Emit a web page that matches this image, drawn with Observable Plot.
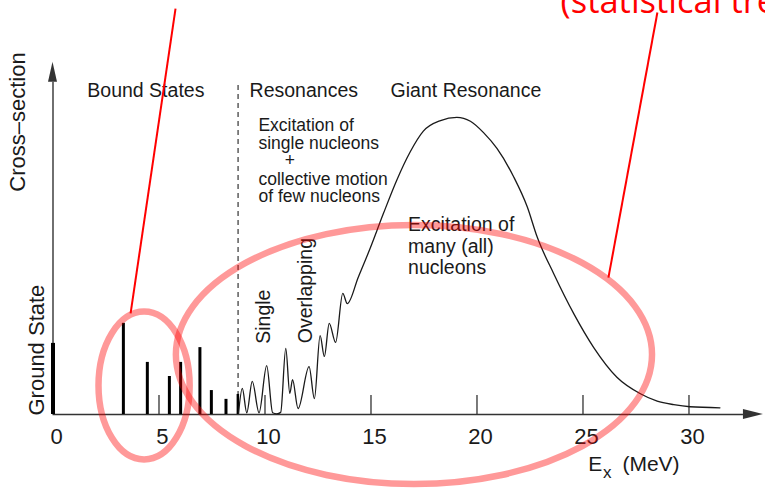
<!DOCTYPE html>
<html><head><meta charset="utf-8">
<script src="https://cdn.jsdelivr.net/npm/d3@7"></script>
<script src="https://cdn.jsdelivr.net/npm/@observablehq/plot@0.6"></script>
<style>html,body{margin:0;padding:0;background:#fff;overflow:hidden;width:765px;height:489px}</style>
</head><body><div id="chart"></div>
<script>
// ---- data (excitation energy in MeV, cross-section in arbitrary units) ----
const groundEnergy = [0];
const groundHeight = [20.2];
const levelEnergies = [3.32, 4.45, 5.49, 6.02, 6.93, 7.47, 8.16];
const levelHeights  = [25.9, 14.8, 10.8, 14.8, 19.0, 6.8, 4.3];
const thresholdEnergy = [8.72];
const thresholdHeight = [5.7];
const separationEnergy = [8.73];
const curveEnergies = [8.75, 8.93, 9.14, 9.40, 9.72, 10.08, 10.36, 10.55, 10.74, 10.98, 11.17, 11.30, 11.56, 12.08, 12.33, 12.60, 12.80, 13.03, 13.33, 13.67, 13.88, 14.40, 14.98, 15.58, 16.21, 16.84, 17.47, 18.28, 19.05, 19.69, 20.32, 20.95, 21.74, 22.37, 22.84, 23.62, 24.57, 25.50, 26.60, 27.71, 28.50, 29.28, 30.05, 31.46];
const curveValues   = [0.3, 7.4, 0.5, 9.4, 0.5, 13.9, 0.5, 0.2, 0.6, 18.8, 6.0, 9.9, 1.7, 13.6, 4.5, 22.4, 16.5, 25.9, 20.5, 34.4, 31.5, 39.0, 47.5, 57.0, 66.5, 74.5, 80.5, 83.5, 84.4, 83.3, 80.0, 75.5, 67.4, 59.0, 50.4, 40.0, 28.6, 19.1, 10.6, 5.9, 3.8, 2.8, 2.2, 1.9];
const xTicks = [0, 5, 10, 15, 20, 25, 30];
const regionLabels = ["Bound States", "Resonances", "Giant Resonance"];
const fewLines = ["Excitation of", "single nucleons", "+", "collective motion", "of few nucleons"];
const manyLines = ["Excitation of", "many (all)", "nucleons"];

const ground = groundEnergy.map((e, i) => ({e, h: groundHeight[i]}));
const levels = levelEnergies.map((e, i) => ({e, h: levelHeights[i]}));
const threshold = thresholdEnergy.map((e, i) => ({e, h: thresholdHeight[i]}));
const curve = curveEnergies.map((e, i) => ({e, s: curveValues[i]}));

const FONT = "'Liberation Sans', Arial, Helvetica, sans-serif";
const INK = "#1a1a1a";
const AX = "#333";
const txt = (s, o) => Plot.text([s], {fontFamily: FONT, fill: INK, ...o});

const plot = Plot.plot({
  width: 765, height: 489,
  marginLeft: 52.5, marginRight: 0.2, marginTop: 62, marginBottom: 75,
  x: {domain: [0, 33.6]},
  y: {domain: [0, 100], axis: null},
  style: {background: "white", fontFamily: FONT, overflow: "hidden", color: INK},
  marks: [
    Plot.ruleY([0], {x1: 0, x2: 32.57, stroke: AX, strokeWidth: 1.4}),
    Plot.ruleX([0], {y1: 0, y2: 94.4, stroke: AX, strokeWidth: 1.4}),
    Plot.ruleX(xTicks.filter(t => t > 0), {y1: 0, y2: 5.4, stroke: AX, strokeWidth: 1.3}),
    Plot.ruleX(separationEnergy, {y1: 0, y2: 94, stroke: AX, strokeWidth: 1.2, strokeDasharray: "5,4"}),
    Plot.ruleX(ground, {x: "e", y1: 0, y2: "h", stroke: "#000", strokeWidth: 4}),
    Plot.ruleX(levels, {x: "e", y1: 0, y2: "h", stroke: "#000", strokeWidth: 3}),
    Plot.ruleX(threshold, {x: "e", y1: 0, y2: "h", stroke: "#000", strokeWidth: 2.5}),
    Plot.line(curve, {x: "e", y: "s", curve: "monotone-x", stroke: INK, strokeWidth: 1.3}),
    Plot.axisX({ticks: xTicks, tickSize: 0, tickPadding: 13.5, fontSize: 22, dx: 3.5, label: null, fill: INK, fontFamily: FONT}),
    txt(regionLabels[0], {x: 4.38, y: 90.34, fontSize: 19.5, lineAnchor: "bottom"}),
    txt(regionLabels[1], {x: 11.83, y: 90.34, fontSize: 19.5, lineAnchor: "bottom"}),
    txt(regionLabels[2], {x: 19.48, y: 90.34, fontSize: 19.5, lineAnchor: "bottom"}),
    txt(fewLines[0], {x: 9.69, y: 80.4, fontSize: 17.5, textAnchor: "start", lineAnchor: "bottom"}),
    txt(fewLines[1], {x: 9.69, y: 75.4, fontSize: 17.5, textAnchor: "start", lineAnchor: "bottom"}),
    txt(fewLines[2], {x: 11.17, y: 70.5, fontSize: 17.5, lineAnchor: "bottom"}),
    txt(fewLines[3], {x: 9.69, y: 65.3, fontSize: 17.5, textAnchor: "start", lineAnchor: "bottom"}),
    txt(fewLines[4], {x: 9.69, y: 60.3, fontSize: 17.5, textAnchor: "start", lineAnchor: "bottom"}),
    txt(manyLines[0], {x: 16.75, y: 52.0, fontSize: 19.5, textAnchor: "start", lineAnchor: "bottom"}),
    txt(manyLines[1], {x: 16.75, y: 46.0, fontSize: 19.5, textAnchor: "start", lineAnchor: "bottom"}),
    txt(manyLines[2], {x: 16.75, y: 40.0, fontSize: 19.5, textAnchor: "start", lineAnchor: "bottom"}),
    txt("Single", {x: 9.92, y: 27.8, fontSize: 19.5, rotate: -90, lineAnchor: "middle"}),
    txt("Overlapping", {x: 11.9, y: 35.2, fontSize: 19.5, rotate: -90, lineAnchor: "middle"}),
    txt("Cross\u2013section", {x: -1.67, y: 83.1, fontSize: 22, rotate: -90, lineAnchor: "middle"}),
    txt("Ground State", {x: -0.75, y: 18.3, fontSize: 22, rotate: -90, lineAnchor: "middle"}),
    txt("E", {x: 25.25, y: -16.1, fontSize: 21, textAnchor: "start", lineAnchor: "bottom"}),
    txt("x", {x: 25.95, y: -17.9, fontSize: 17, textAnchor: "start", lineAnchor: "bottom"}),
    txt("(MeV)", {x: 26.86, y: -16.1, fontSize: 21, textAnchor: "start", lineAnchor: "bottom"}),
    Plot.link([{x1: 5.78, y1: 115.3, x2: 3.66, y2: 28.7}, {x1: 28.51, y1: 114.2, x2: 26.2, y2: 38.9}],
      {x1: "x1", y1: "y1", x2: "x2", y2: "y2", stroke: "#ff0000", strokeWidth: 2}),
    Plot.text(["(statistical treatment)"], {x: 23.94, y: 114.2, fontSize: 34.5, fontFamily: "'Open Sans', sans-serif", fill: "#ff0000", textAnchor: "start", lineAnchor: "bottom"})
  ]
});

const svg = d3.select(plot);
const X = v => plot.scale("x").apply(v), Y = v => plot.scale("y").apply(v);
// arrowheads
svg.append("path").attr("fill", AX)
  .attr("d", `M${X(33.51)},${Y(0)} L${X(32.57)},${Y(0) - 5} L${X(32.57)},${Y(0) + 5} Z`);
svg.append("path").attr("fill", AX)
  .attr("d", `M${X(0)},${Y(100.1)} L${X(0) - 4.5},${Y(94.4)} L${X(0) + 4.5},${Y(94.4)} Z`);
// highlight ellipses
const ellipses = [{e: 4.32, s: 8.1, re: 2.15, rs: 21.0}, {e: 17.05, s: 16.9, re: 11.23, rs: 36.8}];
for (const el of ellipses) {
  svg.append("ellipse")
    .attr("cx", X(el.e)).attr("cy", Y(el.s))
    .attr("rx", X(el.e + el.re) - X(el.e)).attr("ry", Y(el.s) - Y(el.s + el.rs))
    .attr("fill", "none").attr("stroke", "#ff0000").attr("stroke-opacity", 0.4).attr("stroke-width", 6.5);
}
document.getElementById("chart").appendChild(plot);
</script></body></html>
